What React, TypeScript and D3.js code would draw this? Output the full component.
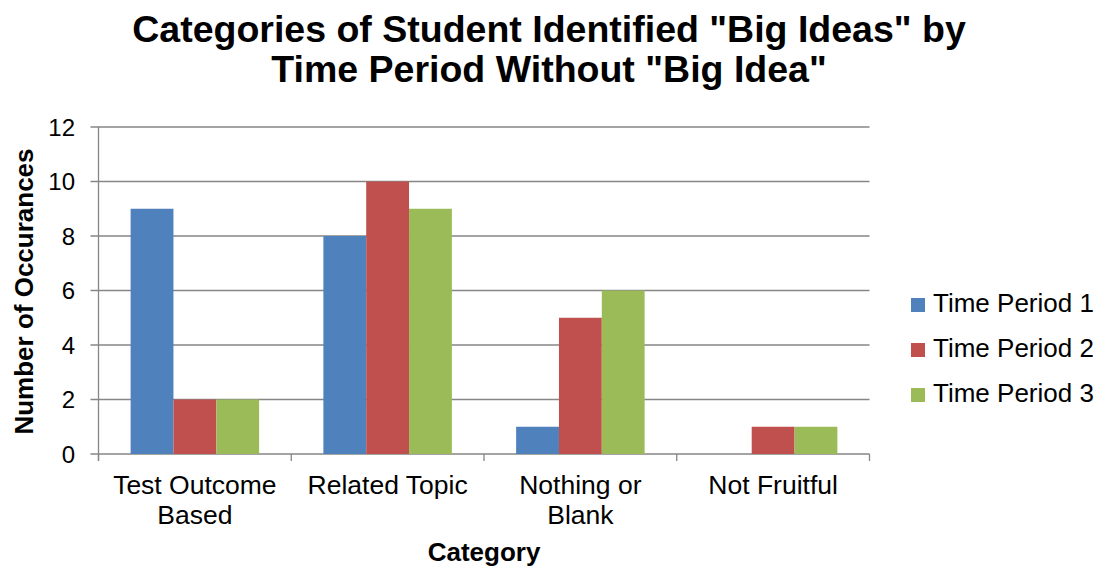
import React from "react";
import * as d3 from "d3";

const categories = [["Test Outcome", "Based"], ["Related Topic"], ["Nothing or", "Blank"], ["Not Fruitful"]];
const categoryKeys = ["Test Outcome Based", "Related Topic", "Nothing or Blank", "Not Fruitful"];
const seriesNames = ["Time Period 1", "Time Period 2", "Time Period 3"];
const period1 = [9, 8, 1, 0];
const period2 = [2, 10, 5, 1];
const period3 = [2, 9, 6, 1];
const yTicks = [0, 2, 4, 6, 8, 10, 12];
const colors = ["#4F81BD", "#C0504D", "#9BBB59"];

const W = 1101;
const H = 567;
const plot = { left: 98.5, right: 869.5, top: 127, bottom: 454 };
const font = "'Liberation Sans', Arial, sans-serif";

export default function App() {
  const series = [period1, period2, period3];
  const x = d3.scaleBand<string>().domain(categoryKeys).range([plot.left, plot.right]);
  const inner = d3
    .scaleBand<string>()
    .domain(seriesNames)
    .range([0, x.bandwidth()])
    .paddingOuter(0.75)
    .paddingInner(0);
  const y = d3.scaleLinear().domain([0, 12]).range([plot.bottom, plot.top]);
  const grid = "#868686";
  const boundaries = [...categoryKeys.map((c) => x(c) as number), plot.right];

  return (
    <svg width={W} height={H} style={{ position: "absolute", left: 0, top: 0 }} fontFamily={font}>
      <rect width={W} height={H} fill="#fff" />
      <text x={549} y={42} textAnchor="middle" fontSize={37.5} fontWeight="bold">
        Categories of Student Identified "Big Ideas" by
      </text>
      <text x={549} y={82} textAnchor="middle" fontSize={37.5} fontWeight="bold">
        Time Period Without "Big Idea"
      </text>

      {yTicks.map((t) => (
        <g key={t}>
          <line x1={plot.left - 8} x2={plot.right} y1={y(t)} y2={y(t)} stroke={grid} strokeWidth={1.3} />
          <text x={75} y={y(t) + 8.5} textAnchor="end" fontSize={24}>
            {t}
          </text>
        </g>
      ))}
      <line x1={plot.left} x2={plot.left} y1={plot.top} y2={plot.bottom + 7} stroke={grid} strokeWidth={1.3} />
      {boundaries.map((b, i) => (
        <line key={i} x1={b} x2={b} y1={plot.bottom} y2={plot.bottom + 7} stroke={grid} strokeWidth={1.3} />
      ))}

      {categoryKeys.map((c, ci) => (
        <g key={c}>
          {series.map((vals, si) =>
            vals[ci] > 0 ? (
              <rect
                key={si}
                x={(x(c) as number) + (inner(seriesNames[si]) as number)}
                y={y(vals[ci])}
                width={inner.bandwidth()}
                height={y(0) - y(vals[ci])}
                fill={colors[si]}
              />
            ) : null
          )}
          {categories[ci].map((line, li) => (
            <text
              key={li}
              x={(x(c) as number) + x.bandwidth() / 2}
              y={494 + li * 30}
              textAnchor="middle"
              fontSize={26.5}
            >
              {line}
            </text>
          ))}
        </g>
      ))}

      <text
        transform={`translate(33, ${(plot.top + plot.bottom) / 2 + 1}) rotate(-90)`}
        textAnchor="middle"
        fontSize={26}
        fontWeight="bold"
      >
        Number of Occurances
      </text>
      <text x={484} y={561} textAnchor="middle" fontSize={26} fontWeight="bold">
        Category
      </text>

      {seriesNames.map((s, i) => (
        <g key={s}>
          <rect x={911} y={298 + i * 45} width={14} height={14} fill={colors[i]} />
          <text x={933} y={312 + i * 45} fontSize={26}>
            {s}
          </text>
        </g>
      ))}
    </svg>
  );
}
